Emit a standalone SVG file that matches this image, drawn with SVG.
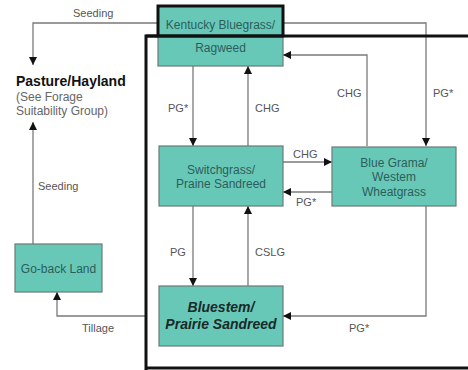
<svg xmlns="http://www.w3.org/2000/svg" width="468" height="370" viewBox="0 0 468 370">
  <style>
    .box { fill: #68c8b8; stroke: #6a7a78; stroke-width: 1.2; }
    .thick { fill: none; stroke: #111; stroke-width: 3; }
    .name { font-family: "Liberation Sans", Arial, sans-serif; font-size: 12px; fill: #2c5e58; text-anchor: middle; }
    .bold { font-family: "Liberation Sans", Arial, sans-serif; font-size: 14px; font-weight: bold; font-style: italic; fill: #1a2a28; text-anchor: middle; }
    .lbl { font-family: "Liberation Sans", Arial, sans-serif; font-size: 11px; fill: #555; }
    .note { font-family: "Liberation Sans", Arial, sans-serif; font-size: 12px; fill: #666; }
    .edge { fill: none; stroke: #7a7a7a; stroke-width: 1.3; marker-end: url(#arr); }
  </style>
  <defs>
    <marker id="arr" markerWidth="9" markerHeight="8" refX="8" refY="4" orient="auto" markerUnits="userSpaceOnUse">
      <path d="M0,0 L8,4 L0,8 z" fill="#111"/>
    </marker>
  </defs>
  <rect width="468" height="370" fill="#fff"/>

  <!-- connectors -->
  <g id="connectors">
    <path class="edge" d="M158,23 H33 V65"/>
    <path class="edge" d="M283,23 H426 V146"/>
    <path class="edge" d="M367,146 V55 H283"/>
    <path class="edge" d="M193,66 V146"/>
    <path class="edge" d="M248,146 V66"/>
    <path class="edge" d="M283,162 H332"/>
    <path class="edge" d="M332,192 H283"/>
    <path class="edge" d="M193,206 V286"/>
    <path class="edge" d="M248,286 V206"/>
    <path class="edge" d="M426,206 V316 H283"/>
    <path class="edge" d="M146,316 H57 V292"/>
    <path class="edge" d="M33,244 V122"/>
    <text class="lbl" x="73" y="17">Seeding</text>
    <text class="lbl" x="38" y="190">Seeding</text>
    <text class="lbl" x="168" y="112">PG*</text>
    <text class="lbl" x="255" y="112">CHG</text>
    <text class="lbl" x="337" y="97">CHG</text>
    <text class="lbl" x="433" y="97">PG*</text>
    <text class="lbl" x="293" y="158">CHG</text>
    <text class="lbl" x="296" y="206">PG*</text>
    <text class="lbl" x="170" y="256">PG</text>
    <text class="lbl" x="255" y="256">CSLG</text>
    <text class="lbl" x="349" y="332">PG*</text>
    <text class="lbl" x="82" y="332">Tillage</text>
  </g>

  <!-- outer frame -->
  <path class="thick" d="M146,370 V36 H472 M146,368 H472"/>

  <g id="pasture">
    <text x="16" y="86" font-family="Liberation Sans, Arial, sans-serif" font-size="14" font-weight="bold" fill="#111">Pasture/Hayland</text>
    <text class="note" x="16" y="101">(See Forage</text>
    <text class="note" x="16" y="115">Suitability Group)</text>
  </g>

  <g id="kentucky">
    <rect class="box" x="158" y="6" width="125" height="60"/>
    <rect class="thick" x="158" y="6" width="125" height="30"/>
    <line x1="146" y1="36" x2="283" y2="36" stroke="#111" stroke-width="3"/>
    <text class="name" x="220.5" y="29">Kentucky Bluegrass/</text>
    <text class="name" x="220.5" y="52">Ragweed</text>
  </g>

  <g id="switchgrass">
    <rect class="box" x="159" y="146" width="124" height="60"/>
    <text class="name" x="221" y="174">Switchgrass/</text>
    <text class="name" x="221" y="188">Praine Sandreed</text>
  </g>

  <g id="bluegrama">
    <rect class="box" x="332" y="147" width="124" height="59"/>
    <text class="name" x="394" y="167">Blue Grama/</text>
    <text class="name" x="394" y="181">Westem</text>
    <text class="name" x="394" y="196">Wheatgrass</text>
  </g>

  <g id="bluestem">
    <rect class="box" x="159" y="286" width="124" height="60"/>
    <text class="bold" x="221" y="312">Bluestem/</text>
    <text class="bold" x="221" y="329">Prairie Sandreed</text>
  </g>

  <g id="gobackland">
    <rect class="box" x="15" y="244" width="87" height="48" stroke="#111" stroke-width="3"/>
    <text class="name" x="58.5" y="273">Go-back Land</text>
  </g>
</svg>
